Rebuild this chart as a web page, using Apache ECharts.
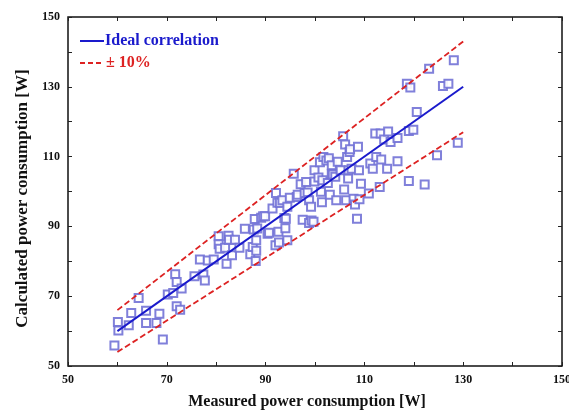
<!DOCTYPE html>
<html>
<head>
<meta charset="utf-8">
<script src="https://cdn.jsdelivr.net/npm/echarts@6/dist/echarts.min.js"></script>
<style>
  html, body { margin: 0; padding: 0; background: #fff; }
  #chart { width: 569px; height: 410px; }
</style>
</head>
<body>
<div id="chart"></div>
<script>
// Measured vs calculated power consumption [W]
const measured = [
  59.4, 60.1, 60.2, 62.3, 62.8, 64.3, 65.8, 65.8, 67.9, 68.5, 69.2, 70.2, 71.3, 71.7, 72.0, 72.0,
  72.7, 73.0, 75.6, 76.7, 77.4, 77.7, 78.3, 79.5, 80.5, 80.5, 80.7, 81.8, 82.1, 82.5, 82.6, 83.2,
  83.8, 84.7, 85.8, 86.9, 87.4, 87.6, 87.8, 88.0, 88.1, 88.1, 88.3, 89.1, 89.5, 89.9, 90.4, 90.7,
  91.4, 92.0, 92.1, 92.4, 92.6, 92.7, 92.9, 93.4, 93.8, 94.0, 94.1, 94.4, 94.4, 94.9, 95.7, 96.3,
  96.5, 97.1, 97.5, 97.9, 98.2, 98.5, 98.8, 98.8, 99.2, 99.3, 99.7, 99.9, 99.9, 100.7, 101.0, 101.2,
  101.4, 101.5, 101.7, 102.3, 102.6, 102.8, 103.0, 103.4, 103.4, 103.6, 104.1, 104.3, 104.6, 105.2,
  105.7, 105.9, 106.1, 106.3, 106.5, 106.7, 106.8, 107.0, 107.1, 107.4, 107.8, 108.1, 108.5, 108.7,
  108.9, 109.0, 109.3, 110.9, 111.2, 111.7, 112.2, 112.4, 113.1, 113.3, 113.4, 114.0, 114.6, 114.8,
  115.3, 116.7, 116.7, 118.6, 119.0, 119.0, 119.3, 119.9, 120.6, 122.2, 123.1, 124.7, 125.9, 127.0,
  128.1, 128.9
];
const calculated = [
  55.9, 62.6, 60.2, 61.7, 65.2, 69.5, 65.8, 62.3, 62.3, 65.0, 57.6, 70.5, 70.9, 76.3, 74.1, 67.1,
  66.1, 72.2, 75.7, 80.5, 76.2, 74.5, 80.2, 80.5, 87.2, 84.9, 83.6, 83.9, 79.3, 87.3, 86.2, 81.7,
  86.2, 83.9, 89.3, 82.0, 84.1, 89.1, 92.1, 80.1, 83.0, 86.0, 89.4, 92.5, 92.9, 92.9, 87.9, 88.2,
  95.1, 84.6, 99.6, 96.8, 88.5, 85.4, 96.8, 97.5, 92.4, 89.5, 92.2, 86.0, 95.6, 98.2, 105.1, 98.4,
  99.1, 102.1, 91.9, 99.6, 102.7, 99.7, 97.5, 91.0, 95.6, 91.7, 91.3, 106.1, 102.9, 104.0, 108.4, 99.9,
  96.9, 103.2, 109.9, 108.9, 102.4, 109.5, 99.1, 107.5, 105.1, 104.9, 104.2, 97.5, 108.5, 106.1,
  115.8, 100.6, 113.5, 97.5, 109.9, 103.7, 106.1, 111.3, 112.1, 106.5, 97.9, 96.3, 92.2, 112.8,
  106.1, 97.8, 102.2, 99.4, 108.0, 106.5, 116.6, 109.9, 101.3, 116.6, 109.2, 114.9, 106.5, 117.2,
  114.2, 115.3, 108.7, 130.9, 117.3, 103.0, 129.8, 117.7, 122.8, 102.0, 135.2, 110.4, 130.2, 130.9,
  137.6, 114.0
];
// Reference lines: y = x and the ±10% band, spanning the measured range
const lineX = [60, 130];
const idealY = [60, 130];
const upperY = [66, 143];
const lowerY = [54, 117];
const ticks = [50, 70, 90, 110, 130, 150];
const legendNames = ['Ideal correlation', '± 10%'];

const pairs = (xs, ys) => xs.map((x, i) => [x, ys[i]]);
const font = 'Liberation Serif';
const blue = '#1a1acc';
const red = '#dd2222';

const chart = echarts.init(document.getElementById('chart'));
const tickStyle = { show: true, inside: true, length: 4, lineStyle: { color: '#222' } };
const minorStyle = { show: true, splitNumber: 2, length: 4, lineStyle: { color: '#222' } };
const hiddenAxis = (pos) => ({
  type: 'value', position: pos, min: ticks[0], max: ticks[ticks.length - 1], interval: 20,
  axisLine: { show: false }, axisTick: tickStyle, minorTick: minorStyle,
  axisLabel: { show: false }, splitLine: { show: false }
});
const mainAxis = (name, gap, pos, size, pad) => ({
  type: 'value', position: pos, min: ticks[0], max: ticks[ticks.length - 1], interval: 20,
  name: name, nameLocation: 'middle', nameGap: gap,
  nameTextStyle: { fontFamily: font, fontWeight: 'bold', fontSize: size, color: '#111', padding: pad },
  axisLine: { show: false }, axisTick: tickStyle, minorTick: minorStyle,
  axisLabel: { fontFamily: font, fontWeight: 'bold', fontSize: 12, color: '#111', margin: 8 },
  splitLine: { show: false }
});

// Legend drawn as line samples with coloured labels
const legendGraphic = [
  { type: 'line', shape: { x1: 80, y1: 41, x2: 104, y2: 41 }, style: { stroke: blue, lineWidth: 2 } },
  { type: 'text', left: 105, top: 33, style: { text: legendNames[0], fill: blue,
      font: 'bold 16px "' + font + '"' } },
  { type: 'line', shape: { x1: 80, y1: 63, x2: 104, y2: 63 }, style: { stroke: red, lineWidth: 1.8, lineDash: [5, 3] } },
  { type: 'text', left: 106, top: 55, style: { text: legendNames[1], fill: red,
      font: 'bold 16px "' + font + '"' } }
];

chart.setOption({
  animation: false,
  backgroundColor: '#fff',
  grid: {
    left: 68, right: 7, top: 17, bottom: 44, outerBoundsMode: 'none', containLabel: false,
    show: true, borderColor: '#111', borderWidth: 1.5
  },
  xAxis: [mainAxis('Measured power consumption [W]', 28, 'bottom', 16, [0, 16, 0, 0]), hiddenAxis('top')],
  yAxis: [mainAxis('Calculated power consumption [W]', 36, 'left', 17, [0, 14, 0, 0]), hiddenAxis('right')],
  graphic: legendGraphic,
  series: [
    {
      name: 'Measurements', type: 'scatter', symbol: 'emptyRect', symbolSize: 8,
      itemStyle: { color: '#7272d6', borderWidth: 1, opacity: 0.9 },
      data: pairs(measured, calculated), z: 2
    },
    {
      name: legendNames[0], type: 'line', showSymbol: false, symbol: 'none',
      lineStyle: { color: blue, width: 2 },
      data: pairs(lineX, idealY), z: 3
    },
    {
      name: legendNames[1], type: 'line', showSymbol: false, symbol: 'none',
      lineStyle: { color: red, width: 1.8, type: [6, 3] },
      data: pairs(lineX, upperY), z: 3
    },
    {
      name: legendNames[1], type: 'line', showSymbol: false, symbol: 'none',
      lineStyle: { color: red, width: 1.8, type: [6, 3] },
      data: pairs(lineX, lowerY), z: 3
    }
  ]
});
</script>
</body>
</html>
